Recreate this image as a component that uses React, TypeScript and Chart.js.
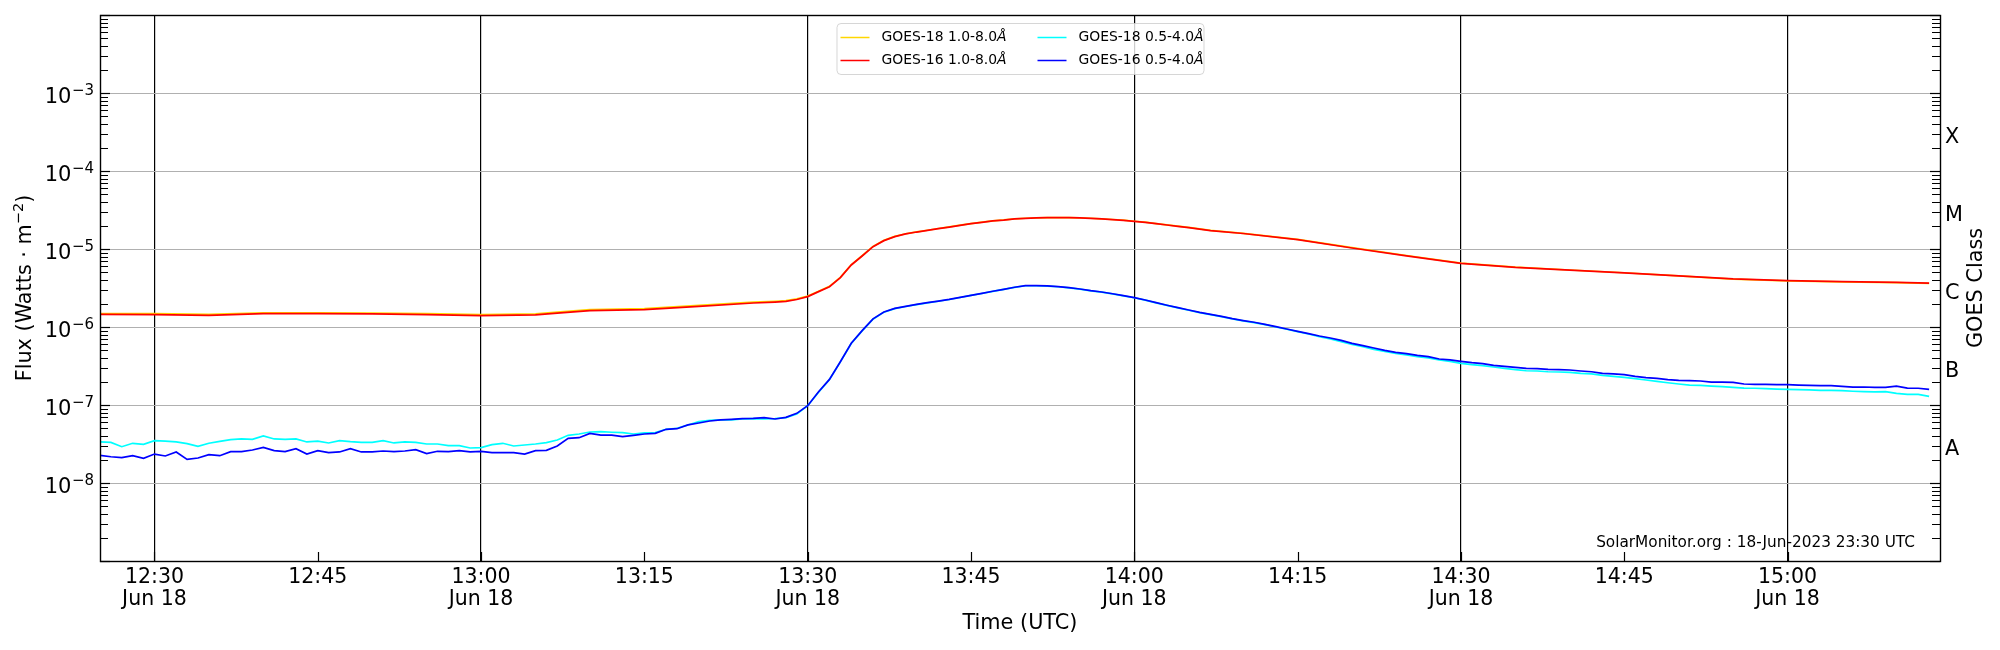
import React, { useEffect, useRef } from "react";
import { Chart, registerables } from "chart.js";

Chart.register(...registerables);

// ---------- DATA ----------
// minutes after 12:00 UT (Jun 18 2023), 1-min cadence for the 0.5-4.0 Å channels
const SHORT_TIMES = [
  25, 26, 27, 28, 29, 30, 31, 32, 33, 34, 35, 36, 37, 38, 39, 40, 41, 42, 43, 44,
  45, 46, 47, 48, 49, 50, 51, 52, 53, 54, 55, 56, 57, 58, 59, 60, 61, 62, 63, 64,
  65, 66, 67, 68, 69, 70, 71, 72, 73, 74, 75, 76, 77, 78, 79, 80, 81, 82, 83, 84,
  85, 86, 87, 88, 89, 90, 91, 92, 93, 94, 95, 96, 97, 98, 99, 100, 101, 102, 103, 104,
  105, 106, 107, 108, 109, 110, 111, 112, 113, 114, 115, 116, 117, 118, 119, 120, 121, 122, 123, 124,
  125, 126, 127, 128, 129, 130, 131, 132, 133, 134, 135, 136, 137, 138, 139, 140, 141, 142, 143, 144,
  145, 146, 147, 148, 149, 150, 151, 152, 153, 154, 155, 156, 157, 158, 159, 160, 161, 162, 163, 164,
  165, 166, 167, 168, 169, 170, 171, 172, 173, 174, 175, 176, 177, 178, 179, 180, 181, 182, 183, 184,
  185, 186, 187, 188, 189, 190, 191, 192, 193,
];

const GOES16_SHORT = [
  2.26e-8, 2.17e-8, 2.11e-8, 2.24e-8, 2.07e-8, 2.35e-8, 2.22e-8, 2.5e-8, 2.01e-8, 2.09e-8,
  2.31e-8, 2.24e-8, 2.52e-8, 2.52e-8, 2.65e-8, 2.86e-8, 2.6e-8, 2.52e-8, 2.75e-8, 2.35e-8,
  2.6e-8, 2.45e-8, 2.5e-8, 2.75e-8, 2.5e-8, 2.5e-8, 2.57e-8, 2.52e-8, 2.57e-8, 2.67e-8,
  2.38e-8, 2.55e-8, 2.52e-8, 2.6e-8, 2.5e-8, 2.55e-8, 2.45e-8, 2.45e-8, 2.45e-8,
  2.35e-8, 2.6e-8, 2.62e-8, 2.98e-8, 3.74e-8, 3.81e-8, 4.33e-8, 4.12e-8, 4.12e-8, 3.93e-8,
  4.09e-8, 4.25e-8, 4.33e-8, 4.88e-8, 4.97e-8, 5.55e-8, 5.88e-8, 6.24e-8, 6.43e-8, 6.55e-8,
  6.68e-8, 6.75e-8, 6.89e-8, 6.62e-8, 6.95e-8, 7.82e-8,
  9.8e-8, 1.48e-7, 2.13e-7, 3.59e-7, 6.18e-7, 8.97e-7, 1.27e-6, 1.56e-6, 1.73e-6, 1.84e-6,
  1.95e-6, 2.05e-6, 2.15e-6, 2.26e-6, 2.4e-6, 2.55e-6, 2.7e-6, 2.87e-6, 3.04e-6, 3.23e-6,
  3.39e-6, 3.39e-6, 3.36e-6, 3.29e-6, 3.19e-6, 3.07e-6, 2.92e-6, 2.81e-6, 2.67e-6, 2.52e-6,
  2.38e-6, 2.22e-6, 2.05e-6, 1.9e-6, 1.77e-6, 1.65e-6,
  1.54e-6, 1.45e-6, 1.37e-6, 1.28e-6, 1.21e-6, 1.15e-6, 1.08e-6, 1.01e-6, 9.42e-7, 8.8e-7,
  8.22e-7, 7.67e-7, 7.23e-7, 6.75e-7, 6.18e-7, 5.77e-7, 5.38e-7, 5.02e-7, 4.73e-7, 4.55e-7,
  4.33e-7, 4.17e-7, 3.89e-7, 3.78e-7, 3.63e-7, 3.49e-7, 3.39e-7, 3.23e-7, 3.13e-7, 3.04e-7,
  2.95e-7, 2.92e-7, 2.86e-7, 2.84e-7, 2.81e-7, 2.73e-7, 2.67e-7, 2.55e-7, 2.5e-7, 2.45e-7,
  2.33e-7, 2.24e-7, 2.2e-7, 2.11e-7, 2.07e-7, 2.05e-7, 2.03e-7, 1.97e-7, 1.97e-7, 1.95e-7,
  1.86e-7, 1.84e-7, 1.84e-7, 1.82e-7, 1.82e-7, 1.8e-7, 1.79e-7, 1.77e-7, 1.77e-7, 1.73e-7,
  1.7e-7, 1.7e-7, 1.68e-7, 1.68e-7, 1.75e-7, 1.65e-7, 1.64e-7, 1.59e-7,
];

const GOES18_SHORT = [
  3.36e-8, 3.32e-8, 2.92e-8, 3.23e-8, 3.13e-8, 3.49e-8, 3.45e-8, 3.36e-8, 3.19e-8, 2.95e-8,
  3.23e-8, 3.42e-8, 3.6e-8, 3.67e-8, 3.63e-8, 4.01e-8, 3.67e-8, 3.63e-8, 3.67e-8, 3.36e-8,
  3.45e-8, 3.26e-8, 3.49e-8, 3.39e-8, 3.32e-8, 3.32e-8, 3.49e-8, 3.26e-8, 3.36e-8, 3.32e-8,
  3.16e-8, 3.16e-8, 3.01e-8, 3.01e-8, 2.81e-8, 2.84e-8, 3.1e-8, 3.23e-8, 2.98e-8,
  3.07e-8, 3.16e-8, 3.29e-8, 3.56e-8, 4.09e-8, 4.25e-8, 4.51e-8, 4.55e-8, 4.47e-8, 4.42e-8,
  4.25e-8, 4.38e-8, 4.42e-8, 4.88e-8, 5.03e-8, 5.55e-8, 6.11e-8, 6.36e-8, 6.43e-8, 6.43e-8,
  6.62e-8, 6.68e-8, 6.62e-8, 6.68e-8, 6.89e-8, 7.67e-8,
  9.8e-8, 1.46e-7, 2.12e-7, 3.57e-7, 6.15e-7, 8.93e-7, 1.26e-6, 1.55e-6, 1.72e-6, 1.83e-6,
  1.94e-6, 2.04e-6, 2.14e-6, 2.25e-6, 2.39e-6, 2.54e-6, 2.69e-6, 2.86e-6, 3.03e-6, 3.22e-6,
  3.38e-6, 3.38e-6, 3.35e-6, 3.28e-6, 3.18e-6, 3.06e-6, 2.91e-6, 2.8e-6, 2.66e-6, 2.51e-6,
  2.37e-6, 2.21e-6, 2.04e-6, 1.89e-6, 1.76e-6, 1.64e-6,
  1.53e-6, 1.44e-6, 1.36e-6, 1.27e-6, 1.2e-6, 1.14e-6, 1.07e-6, 1.0e-6, 9.36e-7,
  8.71e-7, 8.13e-7, 7.52e-7, 7.02e-7, 6.49e-7, 6.0e-7, 5.6e-7, 5.17e-7, 4.88e-7, 4.59e-7,
  4.38e-7, 4.17e-7, 4.01e-7, 3.78e-7, 3.63e-7, 3.42e-7, 3.29e-7, 3.19e-7, 3.07e-7, 2.95e-7,
  2.84e-7, 2.75e-7, 2.73e-7, 2.67e-7, 2.65e-7, 2.62e-7, 2.55e-7, 2.5e-7, 2.4e-7, 2.33e-7,
  2.26e-7, 2.18e-7, 2.09e-7, 2.01e-7, 1.93e-7, 1.86e-7, 1.8e-7, 1.79e-7, 1.75e-7, 1.72e-7,
  1.68e-7, 1.65e-7, 1.64e-7, 1.62e-7, 1.6e-7, 1.59e-7, 1.57e-7, 1.56e-7, 1.54e-7, 1.54e-7,
  1.53e-7, 1.5e-7, 1.48e-7, 1.47e-7, 1.48e-7, 1.41e-7, 1.37e-7, 1.37e-7, 1.29e-7,
];

// minutes after 12:00 UT for the 1.0-8.0 Å channels (smooth curve)
const LONG_TIMES = [
  25, 30, 35, 40, 45, 50, 55, 60, 65, 67, 70, 75, 80, 85, 87, 88, 89,
  90, 91, 92, 93, 94, 95, 96, 97, 98, 99, 100, 101, 102, 103, 104, 105, 106, 107, 108, 109,
  110, 111, 112, 113, 114, 115, 116, 117, 118, 119, 120, 121, 122, 123, 124, 125, 126, 127,
  130, 135, 140, 145, 150, 155, 160, 165, 170, 175, 180, 185, 190, 193,
];

const GOES16_LONG = [
  1.45e-6, 1.44e-6, 1.41e-6, 1.48e-6, 1.48e-6, 1.47e-6, 1.44e-6, 1.4e-6, 1.43e-6, 1.51e-6,
  1.62e-6, 1.67e-6, 1.84e-6, 2.03e-6, 2.09e-6, 2.13e-6, 2.25e-6,
  2.45e-6, 2.84e-6, 3.29e-6, 4.29e-6, 6.24e-6, 8.13e-6, 1.07e-5, 1.28e-5, 1.44e-5, 1.56e-5,
  1.65e-5, 1.73e-5, 1.82e-5, 1.91e-5, 2.01e-5, 2.11e-5, 2.2e-5, 2.29e-5, 2.35e-5, 2.43e-5,
  2.47e-5, 2.5e-5, 2.52e-5, 2.52e-5, 2.52e-5, 2.5e-5, 2.47e-5, 2.43e-5, 2.38e-5, 2.33e-5,
  2.26e-5, 2.2e-5, 2.11e-5, 2.03e-5, 1.95e-5, 1.88e-5, 1.8e-5, 1.72e-5,
  1.58e-5, 1.32e-5, 1.03e-5, 8.18e-6, 6.56e-6, 5.81e-6, 5.36e-6, 4.95e-6, 4.52e-6, 4.13e-6,
  3.93e-6, 3.81e-6, 3.73e-6, 3.66e-6,
];

const GOES18_LONG = [
  1.49e-6, 1.48e-6, 1.45e-6, 1.52e-6, 1.52e-6, 1.51e-6, 1.48e-6, 1.44e-6, 1.47e-6, 1.55e-6,
  1.67e-6, 1.72e-6, 1.89e-6, 2.08e-6, 2.14e-6, 2.18e-6, 2.29e-6,
  2.49e-6, 2.88e-6, 3.32e-6, 4.33e-6, 6.28e-6, 8.2e-6, 1.08e-5, 1.29e-5, 1.45e-5, 1.57e-5,
  1.66e-5, 1.74e-5, 1.83e-5, 1.92e-5, 2.02e-5, 2.12e-5, 2.21e-5, 2.3e-5, 2.36e-5, 2.44e-5,
  2.48e-5, 2.51e-5, 2.53e-5, 2.53e-5, 2.53e-5, 2.51e-5, 2.48e-5, 2.44e-5, 2.39e-5, 2.34e-5,
  2.27e-5, 2.21e-5, 2.12e-5, 2.04e-5, 1.96e-5, 1.89e-5, 1.81e-5, 1.73e-5,
  1.59e-5, 1.33e-5, 1.04e-5, 8.25e-6, 6.6e-6, 5.84e-6, 5.38e-6, 4.96e-6, 4.52e-6, 4.12e-6,
  3.91e-6, 3.78e-6, 3.7e-6, 3.62e-6,
];

// axis / tick content
const X_MIN = 25;
const X_MAX = 194;
const X_TICKS = [30, 45, 60, 75, 90, 105, 120, 135, 150, 165, 180];
const DATE_LABEL = "Jun 18";
const Y_DECADES = [-9, -8, -7, -6, -5, -4, -3, -2];
const Y_LABEL_EXPS = [-3, -4, -5, -6, -7, -8];
const CLASS_LETTERS = ["X", "M", "C", "B", "A"];
const CLASS_EXPS = [-3.5, -4.5, -5.5, -6.5, -7.5];
const LEGEND_ITEMS = [
  { label: "GOES-18 1.0-8.0", color: "#FFD700" },
  { label: "GOES-16 1.0-8.0", color: "#FF0000" },
  { label: "GOES-18 0.5-4.0", color: "#00FFFF" },
  { label: "GOES-16 0.5-4.0", color: "#0000FF" },
];
const WATERMARK = "SolarMonitor.org : 18-Jun-2023 23:30 UTC";

const FONT = '"DejaVu Sans", sans-serif';

function fmtTime(m: number): string {
  const h = Math.floor(m / 60) + 12;
  const mm = m % 60;
  return `${h}:${mm < 10 ? "0" : ""}${mm}`;
}

const decorPlugin = {
  id: "decor",
  afterDraw(chart: any) {
    const { ctx, chartArea: a, scales } = chart;
    const xs = scales.x;
    const ys = scales.y;
    ctx.save();

    const seg = (x1: number, y1: number, x2: number, y2: number) => {
      ctx.beginPath();
      ctx.moveTo(x1, y1);
      ctx.lineTo(x2, y2);
      ctx.stroke();
    };

    // y ticks (inward, left and right)
    ctx.strokeStyle = "#000";
    for (let i = 0; i < Y_DECADES.length; i++) {
      const d = Y_DECADES[i];
      for (let k = 1; k <= 9; k++) {
        if (d === -2 && k > 1) continue;
        const v = k * Math.pow(10, d);
        const py = Math.round(ys.getPixelForValue(v)) + 0.5;
        const len = k === 1 ? 10 : 8;
        ctx.lineWidth = k === 1 ? 1.2 : 1;
        seg(a.left, py, a.left + len, py);
        seg(a.right, py, a.right - len, py);
      }
    }
    // x ticks (inward, bottom)
    ctx.lineWidth = 1.2;
    X_TICKS.forEach((t) => {
      const px = Math.round(xs.getPixelForValue(t)) + 0.5;
      seg(px, a.bottom, px, a.bottom - 9);
    });

    // frame
    ctx.lineWidth = 1.4;
    ctx.strokeRect(a.left + 0.5, a.top + 0.5, a.right - a.left, a.bottom - a.top);

    ctx.fillStyle = "#000";
    // y tick labels 10^-n
    Y_LABEL_EXPS.forEach((e) => {
      const py = ys.getPixelForValue(Math.pow(10, e));
      const sup = "\u2212" + String(-e);
      ctx.textAlign = "right";
      ctx.textBaseline = "alphabetic";
      ctx.font = `15px ${FONT}`;
      const supW = ctx.measureText(sup).width;
      const rightX = a.left - 6;
      ctx.fillText(sup, rightX, py + 2);
      ctx.font = `21px ${FONT}`;
      ctx.fillText("10", rightX - supW - 0.5, py + 10);
    });

    // x tick labels
    ctx.textAlign = "center";
    ctx.textBaseline = "alphabetic";
    ctx.font = `20.5px ${FONT}`;
    X_TICKS.forEach((t) => {
      const px = xs.getPixelForValue(t);
      ctx.fillText(fmtTime(t), px, a.bottom + 21.5);
      if (t % 30 === 0) ctx.fillText(DATE_LABEL, px, a.bottom + 43.5);
    });

    // x axis title
    ctx.font = `20.8px ${FONT}`;
    ctx.textBaseline = "middle";
    ctx.fillText("Time (UTC)", (a.left + a.right) / 2, 624);

    // y axis title (rotated)
    {
      const cy = (a.top + a.bottom) / 2;
      ctx.save();
      ctx.translate(23, cy);
      ctx.rotate(-Math.PI / 2);
      const p1 = "Flux (Watts \u00b7 m";
      const p2 = "\u22122";
      const p3 = ")";
      ctx.font = `20.8px ${FONT}`;
      const w1 = ctx.measureText(p1).width;
      const w3 = ctx.measureText(p3).width;
      ctx.font = `14.5px ${FONT}`;
      const w2 = ctx.measureText(p2).width;
      const total = w1 + w2 + w3;
      let sx = -total / 2;
      ctx.textAlign = "left";
      ctx.textBaseline = "alphabetic";
      ctx.font = `20.8px ${FONT}`;
      ctx.fillText(p1, sx, 7.5);
      sx += w1;
      ctx.font = `14.5px ${FONT}`;
      ctx.fillText(p2, sx, -0.5);
      sx += w2;
      ctx.font = `20.8px ${FONT}`;
      ctx.fillText(p3, sx, 7.5);
      ctx.restore();
    }

    // GOES class letters + title
    ctx.textAlign = "left";
    ctx.textBaseline = "middle";
    ctx.font = `20.8px ${FONT}`;
    CLASS_LETTERS.forEach((c, i) => {
      const py = ys.getPixelForValue(Math.pow(10, CLASS_EXPS[i]));
      ctx.fillText(c, a.right + 5, py + 6);
    });
    ctx.save();
    ctx.translate(1977, (a.top + a.bottom) / 2);
    ctx.rotate(-Math.PI / 2);
    ctx.textAlign = "center";
    ctx.textBaseline = "middle";
    ctx.fillText("GOES Class", 0, 0);
    ctx.restore();

    // legend
    {
      const bw = 367;
      const bh = 51;
      const bx = (a.left + a.right) / 2 - bw / 2;
      const by = a.top + 8;
      ctx.beginPath();
      if (ctx.roundRect) ctx.roundRect(bx + 0.5, by + 0.5, bw, bh, 4);
      else ctx.rect(bx + 0.5, by + 0.5, bw, bh);
      ctx.fillStyle = "rgba(255,255,255,0.8)";
      ctx.fill();
      ctx.strokeStyle = "rgba(204,204,204,0.8)";
      ctx.lineWidth = 1;
      ctx.stroke();
      const colOff = [0, 197];
      const rowOff = [14.5, 37.5];
      LEGEND_ITEMS.forEach((it, i) => {
        const col = Math.floor(i / 2);
        const row = i % 2;
        const x0 = bx + colOff[col];
        const yy = by + rowOff[row];
        ctx.strokeStyle = it.color;
        ctx.lineWidth = 1.5;
        seg(x0 + 4, yy, x0 + 33, yy);
        ctx.fillStyle = "#000";
        ctx.textAlign = "left";
        ctx.textBaseline = "middle";
        ctx.font = `13.9px ${FONT}`;
        ctx.fillText(it.label, x0 + 45, yy);
        const w = ctx.measureText(it.label).width;
        ctx.font = `italic 13.9px ${FONT}`;
        ctx.fillText("\u00c5", x0 + 45 + w, yy);
      });
    }

    // watermark
    ctx.fillStyle = "#000";
    ctx.font = `15.3px ${FONT}`;
    ctx.textAlign = "right";
    ctx.textBaseline = "middle";
    ctx.fillText(WATERMARK, a.right - 25, 543);

    ctx.restore();
  },
};

export default function App() {
  const ref = useRef<HTMLCanvasElement | null>(null);

  useEffect(() => {
    if (!ref.current) return;
    const pts = (xs: number[], vs: number[]) => xs.map((x, i) => ({ x, y: vs[i] }));
    const chart = new Chart(ref.current, {
      type: "line",
      data: {
        datasets: [
          { label: "GOES-16 0.5-4.0", data: pts(SHORT_TIMES, GOES16_SHORT), borderColor: "#0000FF", borderWidth: 1.7 },
          { label: "GOES-18 0.5-4.0", data: pts(SHORT_TIMES, GOES18_SHORT), borderColor: "#00FFFF", borderWidth: 1.7 },
          { label: "GOES-16 1.0-8.0", data: pts(LONG_TIMES, GOES16_LONG), borderColor: "#FF0000", borderWidth: 1.7 },
          { label: "GOES-18 1.0-8.0", data: pts(LONG_TIMES, GOES18_LONG), borderColor: "#FFD700", borderWidth: 1.7 },
        ] as any,
      },
      options: {
        animation: false,
        responsive: true,
        maintainAspectRatio: false,
        devicePixelRatio: 1,
        layout: { padding: { left: 0, right: 60, top: 15, bottom: 0 } },
        elements: { point: { radius: 0 }, line: { tension: 0 } },
        plugins: { legend: { display: false }, tooltip: { enabled: false } },
        scales: {
          x: {
            type: "linear",
            min: X_MIN,
            max: X_MAX,
            position: "bottom",
            afterBuildTicks: (scale: any) => {
              scale.ticks = X_TICKS.map((v) => ({ value: v }));
            },
            afterFit: (scale: any) => {
              scale.height = 89;
            },
            ticks: { display: false },
            border: { display: false },
            grid: {
              drawTicks: false,
              lineWidth: 1.2,
              color: (c: any) => (c.tick && c.tick.value % 30 === 0 ? "#000000" : "rgba(0,0,0,0)"),
            },
          },
          y: {
            type: "logarithmic",
            min: 1e-9,
            max: 1e-2,
            position: "left",
            afterBuildTicks: (scale: any) => {
              scale.ticks = Y_DECADES.map((d) => ({ value: Math.pow(10, d) }));
            },
            afterFit: (scale: any) => {
              scale.width = 100;
            },
            ticks: { display: false },
            border: { display: false },
            grid: { drawTicks: false, color: "#b0b0b0", lineWidth: 1 },
          },
        },
      } as any,
      plugins: [decorPlugin],
    });
    return () => chart.destroy();
  }, []);

  return (
    <div
      style={{
        position: "absolute",
        left: 0,
        top: 0,
        width: 2000,
        height: 650,
        background: "#fff",
      }}
    >
      <canvas ref={ref} />
    </div>
  );
}
